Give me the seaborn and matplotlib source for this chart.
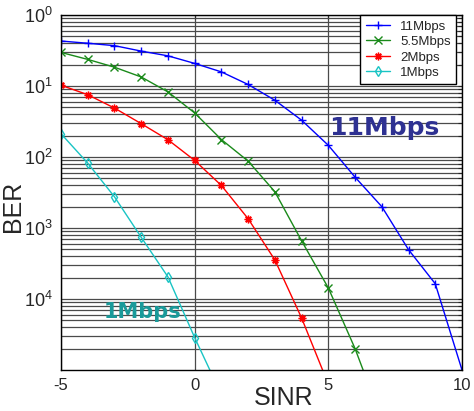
import numpy as np
import pandas as pd
import matplotlib
matplotlib.use('Agg')
import matplotlib.pyplot as plt
import matplotlib.ticker as mticker
import seaborn as sns

# BER vs SINR
sinr_11 = [-5, -4, -3, -2, -1, 0, 1, 2, 3, 4, 5, 6, 7, 8, 9, 10]
ber_11 = [0.43, 0.40, 0.37, 0.31, 0.266, 0.208, 0.158, 0.105, 0.063, 0.033,
          0.0146, 0.0052, 0.0020, 4.95e-4, 1.64e-4, 1.0e-5]

sinr_55 = [-5, -4, -3, -2, -1, 0, 1, 2, 3, 4, 5, 6, 7]
ber_55 = [0.297, 0.237, 0.184, 0.134, 0.0826, 0.0417, 0.0176, 0.00875,
          0.00324, 6.6e-4, 1.43e-4, 2.0e-5, 2.0e-6]

sinr_2 = [-5, -4, -3, -2, -1, 0, 1, 2, 3, 4, 5]
ber_2 = [0.1025, 0.0754, 0.0489, 0.0295, 0.0175, 0.00895, 0.00397, 0.00135,
         3.55e-4, 5.4e-5, 6.3e-6]

sinr_1 = [-5, -4, -3, -2, -1, 0, 1]
ber_1 = [0.0213, 0.0082, 0.00275, 7.4e-4, 2.05e-4, 2.86e-5, 4.5e-6]

yticks = [1, 1e-1, 1e-2, 1e-3, 1e-4]
ytick_labels = ['$10^0$', '$10^1$', '$10^2$', '$10^3$', '$10^4$']
xticks = [-5, 0, 5, 10]

sns.set_style('white')
plt.rcParams['font.family'] = ['Liberation Sans', 'DejaVu Sans']
plt.rcParams['mathtext.fontset'] = 'custom'
plt.rcParams['mathtext.rm'] = 'Liberation Sans'
plt.rcParams['mathtext.it'] = 'Liberation Sans'

fig = plt.figure(figsize=(4.74, 4.11), dpi=100)
ax = fig.add_axes([61 / 474, 1 - 370 / 411, 401 / 474, 355 / 411])

series = [
    ('11Mbps', sinr_11, ber_11, '#0000ff', '+', {}),
    ('5.5Mbps', sinr_55, ber_55, '#1a8a1a', 'x', {}),
    ('2Mbps', sinr_2, ber_2, '#ff0000', (8, 2, 0), {}),
    ('1Mbps', sinr_1, ber_1, '#19c4c4', 'd', {'mfc': 'none'}),
]
for name, xs, ys, col, mk, extra in series:
    df = pd.DataFrame({'SINR': xs, 'BER': ys})
    sns.lineplot(data=df, x='SINR', y='BER', ax=ax, color=col, marker=mk,
                 markersize=5.5, markeredgewidth=1, linewidth=1, label=name,
                 mec=col, **extra)

ax.set_yscale('log')
ax.set_ylim(1e-5, 1)
ax.set_xlim(-5, 10)
ax.set_xticks(xticks)
ax.set_xticklabels([str(t) for t in xticks], fontsize=12)
ax.set_yticks(yticks)
ax.set_yticklabels(ytick_labels, fontsize=13)
ax.yaxis.set_minor_locator(mticker.LogLocator(base=10, subs=np.arange(2, 10)))
ax.yaxis.set_minor_formatter(mticker.NullFormatter())
ax.tick_params(axis='both', which='both', direction='in', length=3, width=0.8,
               top=True, right=True, pad=6)

ax.grid(True, axis='y', which='both', color='#4a4a4a', linewidth=0.9)
ax.grid(True, axis='x', which='major', color='#4a4a4a', linewidth=0.9)
ax.set_axisbelow(True)
for s in ax.spines.values():
    s.set_color('black')
    s.set_linewidth(1)

ax.set_xlabel('SINR', fontsize=18)
ax.set_ylabel('BER', fontsize=18)
ax.xaxis.set_label_coords(0.556, -0.045)
ax.yaxis.set_label_coords(-0.09, 0.46)

ax.text(5.04, 0.0258, '11Mbps', color='#2e3192', fontsize=18,
        fontweight='bold', family='DejaVu Sans', ha='left', va='center')
ax.text(-3.42, 6.5e-5, '1Mbps', color='#1a9a9a', fontsize=15,
        fontweight='bold', family='DejaVu Sans', ha='left', va='center')

leg = ax.legend(loc='upper right', bbox_to_anchor=(0.985, 1.0),
                borderaxespad=0, fontsize=9.5, handlelength=1.8,
                fancybox=False, framealpha=1, edgecolor='black',
                borderpad=0.4, labelspacing=0.25)
leg.get_frame().set_linewidth(1)

fig.savefig('out.png', dpi=100, facecolor='white')
